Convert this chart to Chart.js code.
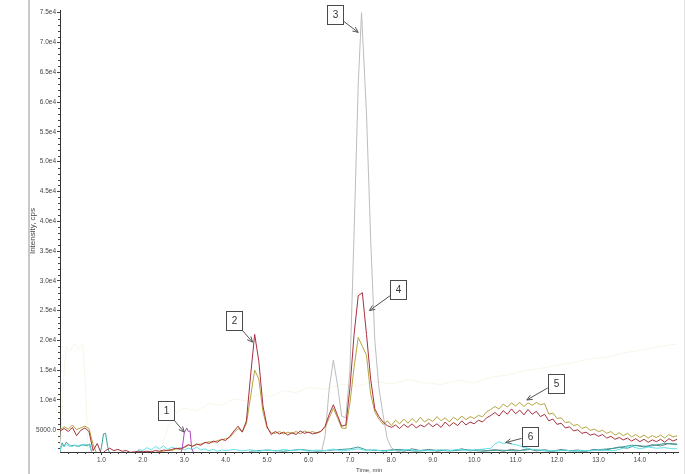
<!DOCTYPE html>
<html>
<head>
<meta charset="utf-8">
<script src="https://cdn.jsdelivr.net/npm/chart.js@4.4.0/dist/chart.umd.min.js"></script>
<style>
  html, body { margin: 0; padding: 0; background: #fff; }
  #wrap { width: 685px; height: 474px; }
</style>
</head>
<body>
<div id="wrap"><canvas id="chrom" width="685" height="474"></canvas></div>
<script>
// shared time grid for the two main traces (min)
const timeGrid = [
  0.0, 0.1, 0.2, 0.3, 0.4, 0.5, 0.6, 0.7, 0.8, 0.9,
  1.0, 1.1, 1.2, 1.3, 1.4, 1.5, 1.6, 1.7, 1.8, 1.9,
  2.0, 2.1, 2.2, 2.3, 2.4, 2.5, 2.6, 2.7, 2.8, 2.9,
  3.0, 3.1, 3.2, 3.3, 3.4, 3.5, 3.6, 3.7, 3.8, 3.9,
  4.0, 4.1, 4.2, 4.3, 4.4, 4.5, 4.6, 4.7, 4.8, 4.9,
  5.0, 5.1, 5.2, 5.3, 5.4, 5.5, 5.6, 5.7, 5.8, 5.9,
  6.0, 6.1, 6.2, 6.3, 6.4, 6.5, 6.6, 6.7, 6.8, 6.9,
  7.0, 7.1, 7.2, 7.3, 7.4, 7.5, 7.6, 7.7, 7.8, 7.9,
  8.0, 8.1, 8.2, 8.3, 8.4, 8.5, 8.6, 8.7, 8.8, 8.9,
  9.0, 9.1, 9.2, 9.3, 9.4, 9.5, 9.6, 9.7, 9.8, 9.9,
  10.0, 10.1, 10.2, 10.3, 10.4, 10.5, 10.6, 10.7, 10.8, 10.9,
  11.0, 11.1, 11.2, 11.3, 11.4, 11.5, 11.6, 11.7, 11.8, 11.9,
  12.0, 12.1, 12.2, 12.3, 12.4, 12.5, 12.6, 12.7, 12.8, 12.9,
  13.0, 13.1, 13.2, 13.3, 13.4, 13.5, 13.6, 13.7, 13.8, 13.9,
  14.0, 14.1, 14.2, 14.3, 14.4, 14.5, 14.6, 14.7, 14.8, 14.9
];

const redValues = [
  4800, 5200, 4700, 5400, 4000, 4900, 5300, 4700, 1500, 2700,
  900, 1500, 1900, 1500, 1700, 1400, 1500, 1200, 1300, 1400,
  1300, 1400, 1300, 1500, 1400, 1600, 1500, 1700, 1900, 1800,
  2100, 2500, 2200, 2600, 2400, 2900, 2700, 3100, 2900, 3400,
  3200, 3900, 4800, 5600, 4600, 6500, 14000, 21000, 16500, 9000,
  5500, 4200, 4700, 4300, 4600, 4100, 4500, 4200, 4800, 4400,
  4600, 4300, 4500, 4700, 5600, 7600, 9200, 7400, 5600, 5800,
  12000, 21000, 27500, 28000, 21000, 13500, 8500, 7200, 6300, 5700,
  5400, 5800, 5200, 5900, 5400, 6000, 5300, 5800, 5500, 6100,
  5500, 6000, 5400, 6300, 5600, 6200, 5700, 6500, 5800, 6300,
  6000, 6600, 6300, 7000, 7400, 7900, 7300, 8200, 7600, 8500,
  7700, 8300, 7500, 8400, 7600, 8100, 7200, 7600, 6500, 6800,
  5900, 6100, 5300, 5500, 4800, 5000, 4400, 4600, 4100, 4300,
  3900, 4200, 3600, 3900, 3400, 3700, 3300, 3600, 3100, 3500,
  3000, 3400, 2900, 3300, 3000, 3400, 2900, 3500, 3100, 3400
];

const oliveValues = [
  5000, 5500, 5100, 5800, 5000, 5300, 5600, 5200, 2500, 800,
  800, 800, 800, 800, 800, 800, 800, 800, 800, 800,
  800, 800, 900, 1100, 1300, 1400, 1600, 1500, 1800, 1700,
  2000, 2400, 2300, 2500, 2600, 2800, 3000, 2900, 3200, 3300,
  3500, 3700, 4500, 5200, 4700, 6000, 10500, 15000, 13500, 8000,
  5300, 4500, 4400, 4700, 4300, 4600, 4400, 4700, 4300, 4800,
  4500, 4700, 4400, 4800, 5400, 7000, 8600, 7000, 5300, 5200,
  9500, 15500, 20500, 19000, 17500, 11000, 8000, 6800, 5900, 6500,
  5700, 6600, 6000, 6800, 6100, 6900, 6200, 7100, 6300, 6800,
  6400, 7200, 6500, 7000, 6300, 7100, 6600, 7300, 6700, 7200,
  6900, 7400, 7200, 8000, 8400, 8900, 8500, 9300, 8800, 9500,
  9000, 9600, 8900, 9500, 9100, 9600, 9200, 9400, 7600, 7800,
  6900, 7000, 6200, 6300, 5700, 5900, 5200, 5500, 4900, 5100,
  4700, 4900, 4400, 4700, 4100, 4500, 4000, 4400, 3800, 4200,
  3700, 4100, 3600, 4000, 3700, 4100, 3600, 4200, 3800, 4000
];

const greyTime = [0.0, 6.3, 6.4, 6.5, 6.6, 6.7, 6.8, 6.9, 7.0, 7.1, 7.2, 7.28, 7.4, 7.5, 7.6, 7.7, 7.8, 7.9, 8.0, 8.1, 8.3, 14.9];
const greyValues = [800, 800, 4000, 12000, 16700, 12500, 7300, 7000, 15000, 38000, 63000, 75000, 58000, 37000, 20000, 12000, 7500, 3500, 2000, 1500, 1000, 1000];

const purpleTime = [0.0, 2.9, 2.95, 3.0, 3.06, 3.1, 3.14, 3.18, 3.25, 14.9];
const purpleValues = [800, 800, 1800, 4500, 5300, 4700, 4800, 1800, 800, 800];

const tealTime = [
  0.0, 0.05, 0.1, 0.15, 0.25, 0.35, 0.45, 0.55, 0.65, 0.72, 0.78, 0.95,
  1.0, 1.05, 1.1, 1.15, 1.2, 4.5, 4.6, 5.0, 5.4, 5.8, 6.2, 6.6, 7.0, 7.2, 7.4,
  7.8, 8.2, 8.6, 9.0, 9.4, 9.8, 10.2, 10.6, 11.0, 11.4, 11.8, 12.2, 12.6, 13.0,
  13.4, 13.8, 14.2, 14.6, 14.9
];
const tealValues = [
  1400, 2800, 2200, 2900, 2300, 2400, 2200, 2500, 2300, 2600, 700, 700,
  2000, 4300, 4400, 2200, 900, 900, 1400, 1600, 1400, 1700, 1400, 1600, 1800, 2100, 1600,
  1500, 1700, 1400, 1600, 1450, 1650, 1400, 1600, 1450, 1700, 1400, 1550, 1400, 1650,
  1900, 2400, 2200, 2700, 2500
];

const cyanTime = [
  0.0, 0.05, 0.1, 0.15, 0.2, 0.3, 0.35, 0.4, 0.5, 0.55, 0.6, 0.7, 0.75, 0.8, 1.85, 1.9,
  2.0, 2.1, 2.2, 2.3, 2.4, 2.5, 2.6, 2.7, 2.8, 2.9, 3.0, 3.1, 3.2, 3.3, 3.4, 3.5, 3.6, 3.7, 3.8, 3.9, 4.0,
  4.2, 4.4, 4.6, 4.8, 5.0, 5.2, 5.4, 5.6, 5.8, 6.0, 6.2, 6.4, 6.6, 6.8, 7.0, 7.2, 7.4, 7.6, 7.8, 8.0,
  8.2, 8.4, 8.6, 8.8, 9.0, 9.2, 9.4, 9.6, 9.8, 10.0, 10.2, 10.4,
  10.5, 10.6, 10.7, 10.8, 10.9, 11.0, 11.1, 11.2, 11.3, 11.4,
  11.6, 11.8, 12.0, 12.2, 12.4, 12.6, 12.8, 13.0, 13.2, 13.4, 13.6, 13.8, 14.0, 14.2, 14.4, 14.6, 14.8, 14.9
];
const cyanValues = [
  1500, 2500, 2100, 2600, 2300, 2200, 2400, 2200, 2500, 2300, 2600, 2400, 1600, 600, 600, 1700,
  1500, 2000, 1600, 2200, 1800, 2300, 1700, 2100, 1800, 2000, 1600, 1900, 1700, 2100, 1600, 1800, 1500, 1700, 1400, 1600, 1500,
  1700, 1450, 1650, 1400, 1600, 1450, 1700, 1500, 1650, 1400, 1600, 1500, 1750, 1450, 1600, 1800, 1500, 1650, 1400, 1550,
  1450, 1700, 1500, 1600, 1450, 1650, 1500, 1700, 1550, 1600, 1750, 1900,
  2600, 3000, 2700, 2900, 2600, 2500, 2300, 2000, 1900, 1700,
  1600, 1500, 1450, 1600, 1400, 1550, 1450, 1600, 1500, 1500, 1900, 2200, 1800, 2100, 1900, 2000, 1800, 1900
];

const slateTime = [
  7.8, 7.9, 8.1, 8.3, 8.5, 8.7, 8.9, 9.1, 9.3, 9.5, 9.7, 9.9, 10.1, 10.3, 10.5, 10.7, 10.9,
  11.1, 11.3, 11.5, 11.7, 11.9, 12.1, 12.3, 12.5, 12.7, 12.9, 13.1, 13.3, 13.5, 13.7, 13.9,
  14.1, 14.3, 14.5, 14.7, 14.9
];
const slateValues = [
  800, 1500, 1700, 1400, 1800, 1500, 1700, 1400, 1600, 1500, 1800, 1450, 1700, 1500, 1650, 1400, 1700,
  1500, 1800, 1450, 1650, 1400, 1700, 1450, 1600, 1400, 1700, 1500, 1800, 2100, 1900, 2400,
  2100, 2500, 2300, 2700, 2600
];

// very faint overlay trace visible in the original
const ghostTime = [
  0.0, 0.1, 0.15, 0.25, 0.35, 0.45, 0.55, 0.62, 0.68,
  2.4, 2.7, 3.0, 3.3, 3.6, 3.9, 4.2, 4.5, 4.8, 5.1, 5.4, 5.7, 6.0,
  6.4, 6.8, 7.2, 7.6, 8.0, 8.4, 8.8, 9.2, 9.6, 10.0, 10.4, 10.8, 11.2, 11.6, 12.0, 12.4, 12.8,
  13.2, 13.6, 14.0, 14.4, 14.9
];
const ghostValues = [
  800, 15000, 19000, 18200, 19500, 18600, 19300, 12000, 800,
  800, 7500, 8600, 8200, 9400, 9100, 10200, 9800, 11000, 10600, 11600, 11200, 12100,
  11800, 12600, 12300, 13100, 12700, 13400, 12900, 12600, 13300, 12900, 13800, 14200, 14900, 15300, 15800, 16300, 16900,
  17200, 17900, 18300, 18900, 19400
];

const xTicks = [1, 2, 3, 4, 5, 6, 7, 8, 9, 10, 11, 12, 13, 14];
const yTicks = [5000, 10000, 15000, 20000, 25000, 30000, 35000, 40000, 45000, 50000, 55000, 60000, 65000, 70000, 75000];
const yTickLabels = ['5000.0', '1.0e4', '1.5e4', '2.0e4', '2.5e4', '3.0e4', '3.5e4', '4.0e4', '4.5e4', '5.0e4', '5.5e4', '6.0e4', '6.5e4', '7.0e4', '7.5e4'];

// peak callouts: label, box centre and arrow tip in data units
const annoLabels = ['1', '2', '3', '4', '5', '6'];
const annoBoxTime = [2.55, 4.20, 6.63, 8.17, 11.97, 11.34];
const annoBoxValue = [8300, 23300, 74700, 28500, 12800, 3900];
const annoTipTime = [3.00, 4.65, 7.20, 7.47, 11.27, 10.76];
const annoTipValue = [4600, 19700, 71700, 25000, 10000, 2850];

const FONT = 'Liberation Sans';

function zip(xs, ys) {
  return xs.map((x, i) => ({ x: x, y: ys[i] }));
}

function trace(label, xs, ys, color) {
  return {
    label: label,
    data: zip(xs, ys),
    borderColor: color,
    borderWidth: 1,
    pointRadius: 0,
    tension: 0,
    fill: false
  };
}

const decorPlugin = {
  id: 'decor',
  beforeDraw(chart) {
    const ctx = chart.ctx;
    ctx.save();
    ctx.fillStyle = '#ffffff';
    ctx.fillRect(0, 0, chart.width, chart.height);
    ctx.fillStyle = '#c9c9c9';
    ctx.fillRect(28, 0, 2, chart.height);
    ctx.fillStyle = '#e2e2e2';
    ctx.fillRect(chart.width - 1, 0, 1, chart.height);
    ctx.restore();
  },
  afterDraw(chart) {
    const ctx = chart.ctx;
    const xs = chart.scales.x;
    const ys = chart.scales.y;
    const area = chart.chartArea;
    ctx.save();

    // minor ticks
    ctx.strokeStyle = '#444';
    ctx.lineWidth = 1;
    ctx.beginPath();
    for (let v = 2000; v < ys.max; v += 1000) {
      if (v % 5000 === 0) continue;
      const p = Math.round(ys.getPixelForValue(v)) + 0.5;
      ctx.moveTo(area.left - 2, p);
      ctx.lineTo(area.left, p);
    }
    for (let k = 1; k * 0.2 < xs.max; k++) {
      if (k % 5 === 0) continue;
      const p = Math.round(xs.getPixelForValue(k * 0.2)) + 0.5;
      ctx.moveTo(p, area.bottom);
      ctx.lineTo(p, area.bottom + 2);
    }
    ctx.stroke();

    // callout boxes with arrows
    const bw = 16, bh = 19;
    annoLabels.forEach((txt, i) => {
      const cx = xs.getPixelForValue(annoBoxTime[i]);
      const cy = ys.getPixelForValue(annoBoxValue[i]);
      const tx = xs.getPixelForValue(annoTipTime[i]);
      const ty = ys.getPixelForValue(annoTipValue[i]);
      const dx = tx - cx, dy = ty - cy;
      const s = Math.min((bw / 2) / Math.abs(dx || 1e-6), (bh / 2) / Math.abs(dy || 1e-6));
      const sx = cx + dx * s, sy = cy + dy * s;

      ctx.strokeStyle = '#555';
      ctx.lineWidth = 1;
      ctx.beginPath();
      ctx.moveTo(sx, sy);
      ctx.lineTo(tx, ty);
      const ang = Math.atan2(ty - sy, tx - sx);
      const hl = 6, ha = 0.42;
      ctx.moveTo(tx, ty);
      ctx.lineTo(tx - hl * Math.cos(ang - ha), ty - hl * Math.sin(ang - ha));
      ctx.moveTo(tx, ty);
      ctx.lineTo(tx - hl * Math.cos(ang + ha), ty - hl * Math.sin(ang + ha));
      ctx.stroke();

      const bx = Math.round(cx - bw / 2) + 0.5, by = Math.round(cy - bh / 2) + 0.5;
      ctx.fillStyle = '#ffffff';
      ctx.fillRect(bx, by, bw, bh);
      ctx.strokeStyle = '#4a4a4a';
      ctx.strokeRect(bx, by, bw, bh);
      ctx.fillStyle = '#333';
      ctx.font = '10px "' + FONT + '"';
      ctx.textAlign = 'center';
      ctx.textBaseline = 'middle';
      ctx.fillText(txt, bx + bw / 2, by + bh / 2 + 0.5);
    });
    ctx.restore();
  }
};

new Chart(document.getElementById('chrom'), {
  type: 'line',
  data: {
    datasets: [
      trace('purple', purpleTime, purpleValues, '#b548c2'),
      trace('red', timeGrid, redValues, '#a8303f'),
      trace('olive', timeGrid, oliveValues, '#b5a53e'),
      trace('grey', greyTime, greyValues, '#bdbdbd'),
      trace('cyan', cyanTime, cyanValues, '#62e2ea'),
      trace('teal', tealTime, tealValues, '#3d9f9b'),
      trace('slate', slateTime, slateValues, '#5f7d80'),
      trace('ghost', ghostTime, ghostValues, '#f9f6e8')
    ]
  },
  options: {
    responsive: false,
    devicePixelRatio: 1,
    animation: false,
    layout: { padding: { top: 10, right: 7, left: 0, bottom: 0 } },
    plugins: {
      legend: { display: false },
      tooltip: { enabled: false }
    },
    scales: {
      x: {
        type: 'linear',
        min: 0,
        max: 14.92,
        afterBuildTicks: s => { s.ticks = xTicks.map(v => ({ value: v })); },
        afterFit: s => { s.height = 22; },
        border: { color: '#333', width: 1 },
        grid: { drawOnChartArea: false, tickLength: 3, tickColor: '#444' },
        ticks: {
          autoSkip: false,
          maxRotation: 0,
          padding: 1,
          color: '#444',
          font: { family: FONT, size: 6.5 },
          callback: v => v.toFixed(1)
        },
        title: {
          display: true,
          text: 'Time, min',
          color: '#444',
          font: { family: FONT, size: 6 },
          padding: { top: 0, bottom: 0 }
        }
      },
      y: {
        type: 'linear',
        min: 1267,
        max: 75453,
        afterBuildTicks: s => { s.ticks = yTicks.map(v => ({ value: v })); },
        afterFit: s => { s.width = 60; },
        border: { color: '#333', width: 1 },
        grid: { drawOnChartArea: false, tickLength: 3, tickColor: '#444' },
        ticks: {
          autoSkip: false,
          padding: 1,
          color: '#444',
          font: { family: FONT, size: 6.5 },
          callback: v => yTickLabels[yTicks.indexOf(v)]
        },
        title: {
          display: true,
          text: 'Intensity, cps',
          color: '#444',
          font: { family: FONT, size: 8 },
          padding: { top: 28, bottom: 0 }
        }
      }
    }
  },
  plugins: [decorPlugin]
});
</script>
</body>
</html>
